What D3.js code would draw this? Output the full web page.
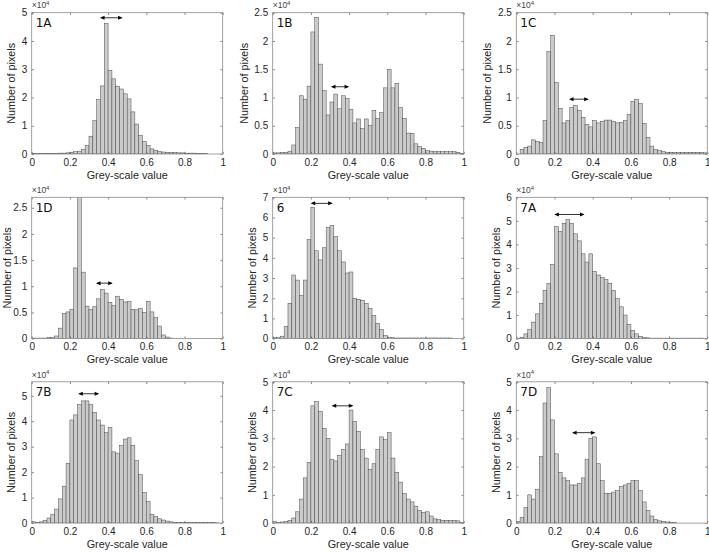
<!DOCTYPE html>
<html><head><meta charset="utf-8">
<script src="https://cdn.jsdelivr.net/npm/d3@7"></script>
<style>
body{margin:0;background:#fff}
svg{display:block}
</style>
</head><body>
<svg id="c" width="709" height="553"></svg>
<script>
// ---- data (counts in units of x10^4), 50 bins of width 0.02 on [0,1] ----
const binWidth = 0.02;
const binStarts = d3.range(50).map(i => +(i * binWidth).toFixed(2));
const panelNames = ["1A","1B","1C","1D","6","7A","7B","7C","7D"];
const xTicks = [0, 0.2, 0.4, 0.6, 0.8, 1];

const v1A = [0.01,0.01,0.01,0.01,0.02,0.02,0.02,0.03,0.03,0.04,
             0.05,0.08,0.10,0.17,0.30,0.63,1.18,1.92,2.41,4.62,
             2.95,2.66,2.40,2.30,2.13,1.95,1.49,1.06,0.66,0.45,
             0.30,0.18,0.12,0.09,0.07,0.06,0.05,0.05,0.04,0.04,
             0.03,0.03,0.03,0.02,0.02,0.02,0,0,0,0];
const v1B = [0.02,0.02,0.03,0.03,0.05,0.16,0.47,1.03,0.97,1.20,
             2.16,2.42,1.59,1.12,0.69,0.92,1.06,0.80,1.03,0.98,
             0.79,0.55,0.62,0.45,0.62,0.50,0.77,0.63,0.73,1.17,
             1.50,1.17,1.25,0.82,0.63,0.37,0.36,0.18,0.13,0.10,
             0.06,0.05,0.04,0.04,0.04,0.04,0.04,0.04,0.03,0.01];
const v1C = [0,0.08,0.12,0.14,0.25,0.22,0.20,0.59,1.81,2.10,
             1.27,0.81,0.55,0.59,0.82,0.86,0.77,0.65,0.52,0.48,
             0.59,0.55,0.58,0.60,0.60,0.58,0.55,0.56,0.59,0.70,
             0.93,0.97,0.89,0.54,0.29,0.14,0.08,0.06,0.04,0.03,
             0.03,0.03,0.03,0.03,0.03,0.03,0.03,0.03,0.03,0.02];
const v1D = [0.01,0.01,0.01,0.01,0.02,0.02,0.05,0.20,0.48,0.51,
             0.56,1.35,2.90,1.27,0.62,0.56,0.61,0.76,0.94,0.87,
             0.69,0.63,0.81,0.75,0.70,0.71,0.56,0.55,0.58,0.50,
             0.71,0.51,0.40,0.24,0.07,0.03,0.01,0,0,0,
             0,0,0,0,0,0,0,0,0,0];
const v6  = [0.05,0.05,0.12,0.60,1.75,3.15,2.90,2.15,2.90,4.90,
             6.50,4.35,3.90,4.50,5.50,5.60,5.05,4.35,3.80,3.25,
             3.30,2.00,1.95,1.90,1.75,1.50,1.15,0.75,0.45,0.15,
             0.07,0.04,0.03,0.03,0.03,0.03,0.03,0.03,0.03,0.03,
             0.03,0.03,0.03,0.03,0.03,0.03,0.03,0,0,0];
const v7A = [0.02,0.05,0.20,0.40,0.70,1.05,1.50,2.05,2.35,3.15,
             4.75,4.55,4.90,5.05,4.90,4.45,4.15,3.60,3.25,3.60,
             2.85,2.70,2.60,2.50,2.35,2.05,1.70,1.35,1.00,0.60,
             0.35,0.20,0.10,0.05,0.03,0.02,0.02,0.02,0.02,0.02,
             0.02,0.02,0.02,0.02,0.02,0.02,0.02,0.02,0.02,0.01];
const v7B = [0.05,0.03,0.05,0.10,0.20,0.35,0.55,0.95,1.45,2.35,
             4.05,4.25,4.65,4.80,4.80,4.65,4.35,4.05,3.85,3.55,
             3.75,2.80,2.75,3.05,3.30,3.35,3.05,2.45,1.90,1.20,
             0.85,0.35,0.25,0.17,0.12,0.08,0.05,0.03,0.02,0.02,
             0.02,0.02,0.02,0.02,0.02,0.02,0.02,0.02,0.01,0];
const v7C = [0.05,0.03,0.04,0.05,0.10,0.18,0.40,0.85,1.60,2.15,
             4.15,4.30,3.95,3.35,3.00,2.25,2.20,2.40,2.60,2.80,
             4.00,3.60,3.25,2.60,2.30,1.90,2.10,2.60,3.05,2.95,
             3.20,2.30,1.80,1.45,1.05,0.85,0.75,0.60,0.45,0.38,
             0.40,0.25,0.15,0.12,0.10,0.10,0.10,0.10,0.08,0.02];
const v7D = [0.05,0.20,0.55,1.00,0.85,1.20,2.35,4.25,4.80,3.65,
             2.45,1.80,1.60,1.50,1.35,1.35,1.40,1.60,2.25,3.00,
             3.05,2.10,1.50,1.05,1.05,1.10,1.15,1.30,1.35,1.40,
             1.50,1.50,1.15,0.75,0.45,0.25,0.12,0.08,0.06,0.04,
             0.03,0.02,0,0,0,0,0,0,0,0];

const yMaxes   = [5, 2.5, 2.5, 2.7, 7, 6, 5.55, 5, 5];
const ySteps   = [1, 0.5, 0.5, 0.5, 1, 1, 1, 1, 1];
// double-headed arrows (data coordinates)
const arrowX0 = [0.358, 0.305, 0.276, 0.337, 0.199, 0.199, 0.244, 0.309, 0.292];
const arrowX1 = [0.476, 0.400, 0.379, 0.424, 0.314, 0.357, 0.353, 0.422, 0.414];
const arrowY  = [4.82, 1.19, 0.97, 1.06, 6.70, 5.27, 5.08, 4.15, 3.20];

const allValues = [v1A, v1B, v1C, v1D, v6, v7A, v7B, v7C, v7D];
const panels = panelNames.map((n, i) => ({
  name: n, values: allValues[i], ymax: yMaxes[i], step: ySteps[i],
  ax0: arrowX0[i], ax1: arrowX1[i], ay: arrowY[i]
}));

// ---- layout ----
const svg = d3.select("#c");
const FONT = "'Liberation Sans', Arial, Helvetica, sans-serif";
const TXT = "#262626";
const colLeft = [31.7, 272.7, 516.3];
const rowTop = [12.7, 197.3, 381.8];
const W = 191, H = 141.3;
const defs = svg.append("defs");

panels.forEach((p, i) => {
  const col = i % 3, row = Math.floor(i / 3);
  const L = colLeft[col], T = rowTop[row];
  const x = d3.scaleLinear().domain([0, 1]).range([L, L + W]);
  const y = d3.scaleLinear().domain([0, p.ymax]).range([T + H, T]);
  const nT = Math.floor(p.ymax / p.step + 1e-9);
  const yTicks = d3.range(nT + 1).map(k => +(k * p.step).toFixed(2));
  const g = svg.append("g");

  const clipId = "clip" + i;
  defs.append("clipPath").attr("id", clipId).append("rect")
    .attr("x", L).attr("y", T).attr("width", W).attr("height", H);

  // bars
  const bins = p.values.map((v, k) => ({ x0: binStarts[k], v })).filter(d => d.v > 0);
  g.append("g").attr("clip-path", `url(#${clipId})`)
    .selectAll("rect").data(bins).join("rect")
    .attr("x", d => x(d.x0))
    .attr("width", d => x(d.x0 + binWidth) - x(d.x0))
    .attr("y", d => y(d.v))
    .attr("height", d => y(0) - y(d.v))
    .attr("fill", "#cbcbcb")
    .attr("stroke", "#4a4a4a")
    .attr("stroke-width", 0.5);

  const styleAxis = sel => {
    sel.select(".domain").remove();
    sel.attr("font-family", FONT).attr("font-size", 10).attr("color", TXT);
    sel.selectAll(".tick line").attr("stroke", "#555").attr("stroke-width", 0.7);
  };
  g.append("g").attr("transform", `translate(0,${T + H})`)
    .call(d3.axisBottom(x).tickValues(xTicks).tickFormat(d => String(d))
      .tickSize(-2.2).tickSizeOuter(0).tickPadding(4.5))
    .call(styleAxis);
  g.append("g").attr("transform", `translate(0,${T})`)
    .call(d3.axisTop(x).tickValues(xTicks).tickFormat(() => "")
      .tickSize(-2.2).tickSizeOuter(0))
    .call(styleAxis);
  const yAx = g.append("g").attr("transform", `translate(${L},0)`)
    .call(d3.axisLeft(y).tickValues(yTicks).tickFormat(d => String(d))
      .tickSize(-2.2).tickSizeOuter(0).tickPadding(4.5))
    .call(styleAxis);
  g.append("g").attr("transform", `translate(${L + W},0)`)
    .call(d3.axisRight(y).tickValues(yTicks).tickFormat(() => "")
      .tickSize(-2.2).tickSizeOuter(0))
    .call(styleAxis);

  // box
  g.append("rect").attr("x", L).attr("y", T).attr("width", W).attr("height", H)
    .attr("fill", "none").attr("stroke", "#8a8a8a").attr("stroke-width", 0.8);

  // exponent label
  const ex = g.append("text").attr("x", L).attr("y", T - 4.3)
    .attr("font-family", FONT).attr("font-size", 8.5).attr("fill", "#444");
  ex.append("tspan").text("×10");
  ex.append("tspan").attr("font-size", 6).attr("dy", -3.2).text("4");

  // axis labels
  g.append("text").attr("x", L + W / 2).attr("y", T + H + 24.6)
    .attr("text-anchor", "middle").attr("font-family", FONT).attr("font-size", 10.8)
    .attr("fill", TXT).text("Grey-scale value");
  let maxW = 0;
  yAx.selectAll(".tick text").each(function () { maxW = Math.max(maxW, this.getComputedTextLength()); });
  const ylx = Math.max(L - maxW - 4.5 - 10.3, 7);
  g.append("text")
    .attr("transform", `translate(${ylx},${T + H / 2}) rotate(-90)`)
    .attr("text-anchor", "middle").attr("dy", "0.35em")
    .attr("font-family", FONT).attr("font-size", 10.8)
    .attr("fill", TXT).text("Number of pixels");

  // panel label
  g.append("text").attr("x", L + 4).attr("y", T + 14.5)
    .attr("font-family", "'DejaVu Sans', sans-serif").attr("font-size", 12)
    .attr("fill", "#111").text(p.name);

  // double-headed arrow
  const ax0 = x(p.ax0), ax1 = x(p.ax1), ay = y(p.ay);
  const hl = 4.5, hw = 2;
  g.append("line").attr("x1", ax0 + 1).attr("x2", ax1 - 1).attr("y1", ay).attr("y2", ay)
    .attr("stroke", "#000").attr("stroke-width", 0.8);
  g.append("path")
    .attr("d", `M${ax0},${ay}L${ax0 + hl},${ay - hw}L${ax0 + hl},${ay + hw}Z` +
               `M${ax1},${ay}L${ax1 - hl},${ay - hw}L${ax1 - hl},${ay + hw}Z`)
    .attr("fill", "#000");
});
</script>
</body></html>
